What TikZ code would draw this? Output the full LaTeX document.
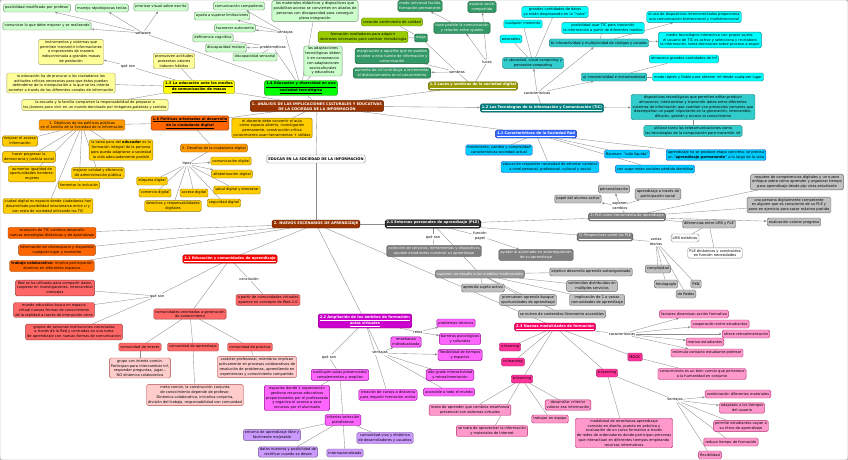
\documentclass[tikz,border=0pt]{standalone}
\usepackage{fontspec}
\setmainfont{DejaVu Sans}
\usetikzlibrary{arrows.meta,positioning,backgrounds}

\definecolor{cLgreen}{HTML}{CCFFCC}
\definecolor{cLyellow}{HTML}{FFFF99}
\definecolor{cYellow}{HTML}{FFFF00}
\definecolor{cGreen}{HTML}{00FF00}
\definecolor{cOlive}{HTML}{99CC00}
\definecolor{cDkgreen}{HTML}{339966}
\definecolor{cOliveD}{HTML}{999900}
\definecolor{cCyan}{HTML}{00FFFF}
\definecolor{cTeal}{HTML}{33CCCC}
\definecolor{cTealD}{HTML}{008080}
\definecolor{cBlue}{HTML}{3366FF}
\definecolor{cSky}{HTML}{00CCFF}
\definecolor{cBrown}{HTML}{993300}
\definecolor{cGold}{HTML}{FFCC00}
\definecolor{cOrange}{HTML}{FF9900}
\definecolor{cOrRed}{HTML}{FF6600}
\definecolor{cRed}{HTML}{FF0000}
\definecolor{cSalmon}{HTML}{FF6666}
\definecolor{cLpink}{HTML}{FFCCCC}
\definecolor{cPurple}{HTML}{CC00CC}
\definecolor{cMagL}{HTML}{FF66FF}
\definecolor{cLav}{HTML}{CC99FF}
\definecolor{cCrimson}{HTML}{FF0066}
\definecolor{cHotpink}{HTML}{FF3399}
\definecolor{cPink}{HTML}{FF99CC}
\definecolor{cDark}{HTML}{333333}
\definecolor{cDgray}{HTML}{808080}
\definecolor{cMgray}{HTML}{999999}
\definecolor{cLgray}{HTML}{C0C0C0}
\definecolor{cLine}{HTML}{8C8C8C}

\newcommand{\cmfont}{\fontsize{3.6}{4.8}\selectfont}

\begin{document}
\begin{tikzpicture}[
  x=1pt,y=-1pt,
  concept/.style={rounded corners=1.5pt,align=center,inner xsep=1.6pt,inner ysep=1.3pt,minimum height=8pt,font=\cmfont,line width=.4pt},
  hd/.style={font=\cmfont\bfseries},
  wt/.style={text=white},
  lw/.style={font=\cmfont,fill=white,inner sep=.5pt,align=center},
  link/.style={draw=cLine,line width=.35pt},
  arr/.style={-{Latex[length=2.6pt,width=2.2pt]}},
  lgreen/.style={concept,fill=cLgreen,draw=cLgreen!55!black},
  lyel/.style={concept,fill=cLyellow,draw=cLyellow!60!black},
  yel/.style={concept,fill=cYellow,draw=cYellow!60!black},
  green/.style={concept,fill=cGreen,draw=cGreen!55!black},
  olive/.style={concept,fill=cOlive,draw=cOlive!60!black},
  dkgreen/.style={concept,fill=cDkgreen,draw=cDkgreen!60!black,wt},
  oliveD/.style={concept,fill=cOliveD,draw=cOliveD!60!black,wt},
  cyan/.style={concept,fill=cCyan,draw=cCyan!55!black},
  teal/.style={concept,fill=cTeal,draw=cTeal!60!black},
  tealD/.style={concept,fill=cTealD,draw=cTealD!60!black,wt},
  blue/.style={concept,fill=cBlue,draw=cBlue!60!black,wt},
  sky/.style={concept,fill=cSky,draw=cBlue!80!black},
  brown/.style={concept,fill=cBrown,draw=cBrown!60!black,wt},
  gold/.style={concept,fill=cGold,draw=cGold!60!black},
  orange/.style={concept,fill=cOrange,draw=cOrange!60!black},
  orred/.style={concept,fill=cOrRed,draw=cOrRed!60!black},
  red/.style={concept,fill=cRed,draw=cRed!60!black,wt},
  salmon/.style={concept,fill=cSalmon,draw=cSalmon!60!black},
  lpink/.style={concept,fill=cLpink,draw=cSalmon!70!black},
  purple/.style={concept,fill=cPurple,draw=cPurple!60!black,wt},
  magl/.style={concept,fill=cMagL,draw=cPurple!70!black},
  lav/.style={concept,fill=cLav,draw=cLav!55!black},
  crimson/.style={concept,fill=cCrimson,draw=cCrimson!60!black,wt},
  hotpink/.style={concept,fill=cHotpink,draw=cHotpink!60!black},
  pink/.style={concept,fill=cPink,draw=cHotpink!70!black},
  dark/.style={concept,fill=cDark,draw=black,wt},
  dgray/.style={concept,fill=cDgray,draw=cDgray!60!black,wt},
  mgray/.style={concept,fill=cMgray,draw=cMgray!60!black,wt},
  lgray/.style={concept,fill=cLgray,draw=cLgray!55!black},
  white/.style={concept,fill=white,draw=cDgray}
]
  \useasboundingbox (0,0) rectangle (848,460);

  % ---- 1.4 / 1.5 block
  \node[lgreen] (posmod) at (37,8) {posibilidad modificado por profesor};
  \node[lgreen] (manejo) at (102,8) {manejo rápido/pocas teclas};
  \node[lgreen] (priorizar) at (161,7) {priorizar visual sobre escrito};
  \node[lgreen] (comunicar) at (47,26) {comunicar lo que debe mejorar y se realizando};
  \node[lw] (software) at (143,33) {software};
  \node[lyel] (instrum) at (71,52) {instrumentos y sistemas que\\permiten transmitir informaciones\\o impresiones de manera\\indiscriminada a grandes masas\\de población};
  \node[lw] (quesonA) at (128,66) {qué son};
  \node[lyel] (promueven) at (174,61) {promueven actitudes\\presentan valores\\inducen hábitos};
  \node[yel,hd] (edu15) at (199,87) {\underline{1.5 La educación ante los medios}\\\underline{de comunicación de masas}};
  \node[lyel] (procurar) at (61,83) {la educación ha de procurar a los ciudadanos las\\actitudes críticas necesarias para que éstos puedan\\defenderse de la manipulación a la que se les intenta\\someter a través de los diferentes canales de información};
  \node[lyel] (escuela) at (95,105) {la escuela y la familia comparten la responsabilidad de preparar a\\los jóvenes para vivir en un mundo dominado por imágenes,palabras y sonidos};
  \node[lgreen] (comcomp) at (239,6) {comunicación compañeros};
  \node[lgreen] (ayuda) at (222,16) {ayuda a superar limitaciones};
  \node[lgreen] (favorecer) at (235,28) {favorecer autonomía};
  \node[lgreen] (defcog) at (213,38) {deficiencia cognitiva};
  \node[lgreen] (dismot) at (226,48) {discapacidad motora};
  \node[lgreen] (dissen) at (255,57) {discapacidad sensorial};
  \node[lw] (ventajasA) at (285,33) {ventajas};
  \node[lw] (problem) at (273,47) {problemáticas};
  \node[lgreen] (materiales) at (315,11) {los materiales didácticos y dispositivos que\\posibilitan acceso se convierten en aliados de\\personas con discapacidad para conseguir\\plena integración};
  \node[lgreen] (adapt) at (323,61) {las adaptaciones\\tecnológicas deben\\ir en consonancia\\con adaptaciones\\socioculturales\\y educativas};
  \node[green,hd] (edu14) at (301,88) {\underline{1.4 Educación y diversidad en una}\\\underline{sociedad tecnológica}};

  % ---- 1.3
  \node[olive] (creacion) at (392,22) {creación sentimiento de calidad};
  \node[olive] (formmed) at (363,37) {formación mediadores para adquirir\\destrezas necesarias para cambiar metodología};
  \node[dkgreen] (exige) at (421,38) {exige};
  \node[dkgreen] (marginacion) at (392,56) {marginación a aquellos que no puedan\\acceder a esta fuente de información y\\comunicación};
  \node[dkgreen] (aumento) at (392,73) {aumento de inf contribuye a incrementar\\el distanciamiento en el conocimiento};
  \node[dkgreen] (modouni) at (420,6) {modo universal facilita\\formación permanente};
  \node[dkgreen] (espacio) at (482,7) {espacio social\\compartido};
  \node[dkgreen] (haceposible) at (462,28) {hace posible la comunicación\\y relación entre iguales};
  \node[lw] (luces) at (487,62) {luces};
  \node[lw] (sombras) at (457,72) {sombras};
  \node[oliveD,hd] (s13) at (473,86) {\underline{1.3 Luces y sombras de la sociedad digital}};

  % ---- 1.2
  \node[cyan] (grandes) at (555,12) {grandes cantidades de datos\\ya están desplazando en la "nube"};
  \node[cyan] (cualquier) at (523,24) {cualquier momento};
  \node[cyan] (wearables) at (511,39) {wearables};
  \node[cyan] (posusar) at (603,28) {posibilidad usar TIC para transmitir\\la información a partir de diferentes medios};
  \node[teal] (bint) at (599,43) {b) interactividad y multiplicidad de códigos y canales};
  \node[teal] (cubic) at (533,63) {c) ubicuidad, cloud computing  y\\pervasive computing};
  \node[teal] (ainm) at (614,77) {a) inmaterialidad e instantaneidad};
  \node[lw] (caract) at (537,93) {características};
  \node[tealD,hd] (s12) at (542,108) {\underline{1.2 Las Tecnologías de la Información y Comunicación (TIC)}};
  \node[cyan] (eluso) at (694,17) {el uso de dispositivos interconectados proporciona\\una comunicación bidireccional y multidireccional};
  \node[cyan] (medio) at (710,40) {medio tecnológico interactivo con propio sujeto:\\el usuario de TIC es activo y selecciona y re-elabora\\la información, toma decisiones sobre proceso a seguir};
  \node[cyan] (almacena) at (684,59) {almacena grandes cantidades de inf};
  \node[cyan] (modorap) at (708,77) {modo rápido y fiable para obtener inf desde cualquier lugar};
  \node[teal] (dispositivos) at (693,107) {dispositivos tecnológicos que permiten editar,producir\\almacenar, intercambiar y transmitir datos entre diferentes\\sistemas de información que cuentan con protocolos comunes que\\desempeñan un papel importante en la generación, intercambio,\\difusión, gestión y acceso al conocimiento};
  \node[teal] (utilizan) at (693,131) {utilizan tanto las telecomunicaciones como\\las tecnologías de la computación para transmitir inf};

  % ---- 1.1
  \node[blue,hd] (s11) at (536,134) {\underline{1.1 Características de la Sociedad Red}};
  \node[sky] (movimiento) at (499,150) {movimiento, cambio y complejidad\\características sociedad actual};
  \node[sky] (aprendperm) at (716,155) {aprendizaje no se produce etapa concreta, se precisa\\un "\textbf{aprendizaje permanente}" a lo largo de la vida};
  \node[sky] (bauman) at (627,154) {Bauman: "vida líquida"};
  \node[sky] (edresp) at (550,167) {educación responder necesidad de afrontar cambios\\a nivel personal, profesional, cultural y social};
  \node[sky] (auge) at (655,169) {con auge redes sociales pérdida identidad};

  % ---- centre
  \node[brown,hd] (analisis) at (317,106) {1. ANÁLISIS DE LAS IMPLICACIONES CULTURALES Y EDUCATIVAS\\DE LA SOCIEDAD DE LA INFORMACIÓN};
  \node[gold] (docente) at (272,128) {el docente debe convertir el aula\\como espacio abierto, investigación\\permanente, construcción crítica\\conocimiento usan herramientas + sólidas};
  \node[white,hd] (educar) at (316,159) {EDUCAR EN LA SOCIEDAD DE LA INFORMACIÓN};
  \node[brown,hd] (nuevos) at (316,224) {2. NUEVOS ESCENARIOS DE APRENDIZAJE};

  % ---- 1.6
  \node[orred,hd] (s16) at (190,123) {\underline{1.6 Políticas orientadas al desarrollo}\\\underline{de la ciudadanía digital}};
  \node[orange] (objetivos) at (82,125) {1. Objetivos de las políticas públicas\\en el ámbito de la Sociedad de la Información};
  \node[gold] (mejacc) at (20,141) {mejorar el acceso\\información};
  \node[gold] (tarea) at (121,150) {la tarea para del \textbf{educador} es la\\formación integral de la persona\\para pueda adaptarse a sociedad\\la vida adecuadamente posible};
  \node[gold] (progresar) at (29,157) {hacer progresar la\\democracia y justicia social};
  \node[gold] (igualdad) at (32,174) {aumentar igualdad de\\oportunidades hombres-\\mujeres};
  \node[gold] (calidad) at (98,173) {mejorar calidad y eficiencia\\de administración pública};
  \node[gold] (inclusion) at (79,185) {fomentar la inclusión};
  \node[gold] (ciudad) at (48,206) {ciudad digital es espacio donde ciudadanos han\\desarrollado posibilidad relacionarse entre sí y\\con resto de sociedad utilizando las TIC};
  \node[orange] (desafios) at (214,148) {2. Desafíos de la ciudadanía digital};
  \node[lw] (tipos) at (187,164) {tipos};
  \node[gold] (comdig) at (231,161) {comunicación digital};
  \node[gold] (alfdig) at (232,174) {alfabetización digital};
  \node[gold] (salud) at (237,190) {salud digital y bienestar};
  \node[gold] (seguridad) at (224,203) {seguridad digital};
  \node[gold] (etiqueta) at (152,181) {etiqueta digital};
  \node[gold] (comercio) at (155,193) {comercio digital};
  \node[gold] (acceso) at (194,193) {acceso digital};
  \node[gold] (derechos) at (173,206) {derechos y responsabilidades\\digitales};

  % ---- 2.1
  \node[orred] (evolucion) at (52,233) {evolución de TIC conlleva desarrollo\\nuevas estrategias didácticas y de aprendizaje};
  \node[orred] (infciber) at (57,250) {información en ciberespacio y disponible\\cualquier lugar y momento};
  \node[orred] (trabcol) at (52,266) {\textbf{trabajo colaborativo}:  implica participación\\alumnos en diferentes espacios};
  \node[red,hd] (s21) at (230,259) {\underline{2.1 Educación y comunidades de aprendizaje}};
  \node[lw] (quesonB) at (157,296) {qué son};
  \node[salmon] (redutil) at (55,288) {Red se ha utilizado para compartir datos,\\cooperar en investigaciones, intercambiar\\mensajes};
  \node[salmon] (mundo) at (54,310) {mundo educativo busca en espacio\\virtual nuevas formas de conocimiento\\de la realidad a través de interacción otros};
  \node[salmon] (grupos) at (74,332) {grupos de personas  instituciones conectadas\\a través de la Red y centradas en una tarea\\de aprendizaje con nuevas formas de comunicación};
  \node[salmon] (comorient) at (190,314) {comunidades orientadas a generación\\de conocimiento};
  \node[lw] (conclusion) at (249,279) {conclusión};
  \node[salmon] (apartir) at (268,300) {a partir de comunidades virtuales\\aparece en concepto de Web 2.0};
  \node[salmon] (cominteres) at (140,347) {comunidad de interés};
  \node[salmon] (comaprend) at (193,347) {comunidad de aprendizaje};
  \node[salmon] (compract) at (250,347) {comunidad de práctica};
  \node[lpink] (grupoint) at (140,368) {grupo con interés común.\\Participan para intercambiar inf,\\responder preguntas, jugar...\\NO dinámica colaborativa};
  \node[lpink] (metacomun) at (195,395) {meta común, la construcción conjunta\\de conocimiento depende de profesor.\\Dinámica colaborativa, iniciativa conjunta,\\división del trabajo, responsabilidad con comunidad};
  \node[lpink] (caracter) at (257,367) {carácter profesional, miembros implican\\activamente en procesos colaborativos de\\resolución de problemas, aprendiendo en\\experiencias y conocimiento compartido};

  % ---- 2.2
  \node[purple,hd] (s22) at (365,321) {\underline{2.2 Ampliación de los ámbitos de formación:}\\\underline{aulas virtuales}};
  \node[lw] (retos) at (418,332) {retos};
  \node[magl] (ensenanza) at (406,342) {enseñanza\\individualizada};
  \node[lw] (ventajasB) at (380,353) {ventajas};
  \node[lw] (quesonC) at (329,357) {qué son};
  \node[magl] (sustituyen) at (340,375) {sustituyen aulas presenciales/\\complementan y amplían};
  \node[magl] (espacios) at (297,398) {espacios donde 1 organización\\gestiona recursos educativos\\proporcionados por el profesorado\\y organiza el acceso a esos\\recursos por el alumnado};
  \node[magl] (cursos) at (388,395) {creación de cursos a distancia\\para impartir formación online};
  \node[magl] (criterios) at (343,420) {criterios selección\\plataformas};
  \node[lav] (entorno) at (272,435) {entorno de aprendizaje libre y\\fácilmente mejorable};
  \node[lav] (datos) at (288,452) {datos nuestros y posibilidad de\\rectificar cuando se desee};
  \node[lav] (internac) at (345,453) {internacionalizado};
  \node[lav] (comviva) at (385,438) {comunidad viva y dinámica\\de desarrolladores y usuarios};
  \node[magl] (problemas) at (456,323) {problemas técnicos};
  \node[magl] (barreras) at (460,339) {barreras psicológicas\\y culturales};
  \node[magl] (flexib) at (460,355) {flexibilidad de tiempos\\y espacios};
  \node[magl] (altogrado) at (450,375) {alto grado interactividad\\y retroalimentación};
  \node[magl] (accesible) at (449,392) {accesible a todo el mundo};

  % ---- 2.3
  \node[crimson,hd] (s23) at (555,327) {\underline{2.3 Nuevas modalidades de formación}};
  \node[hotpink] (ulearn) at (510,347) {u-learning};
  \node[hotpink] (mlearn) at (513,362) {m-learning};
  \node[hotpink] (blearn) at (522,379) {b-learning};
  \node[hotpink] (elearn) at (607,373) {e-learning};
  \node[hotpink] (mooc) at (635,357) {MOOC};
  \node[lw] (caractB) at (622,334) {características};
  \node[pink] (factores) at (694,314) {factores dinamizan acción formativa};
  \node[pink] (cooperacion) at (720,324) {cooperación entre estudiantes};
  \node[pink] (retro) at (746,334) {ofrece retroalimentación};
  \node[pink] (motiva) at (705,342) {motiva estudiantes};
  \node[pink] (estimula) at (707,353) {estimula contacto estudiante-profesor};
  \node[pink] (bien) at (702,374) {conocimiento es un bien común que pertenece\\a la humanidad en conjunto};
  \node[lw] (ventajasC) at (675,400) {ventajas};
  \node[pink] (combinacion) at (738,394) {combinación diferentes materiales};
  \node[pink] (adaptado) at (742,408) {adaptado a los tiempos\\del usuario};
  \node[pink] (ritmo) at (741,426) {permite estudiantes vayan a\\su ritmo de aprendizaje};
  \node[pink] (reduce) at (731,442) {reduce tiempo de formación};
  \node[pink] (flexibilidad) at (710,455) {flexibilidad};
  \node[pink] (modalidad) at (624,433) {modalidad de enseñanza-aprendizaje\\consiste en diseño, puesta en práctica y\\evaluación de un curso formativo a través\\de redes de ordenadores donde participan personas\\que interactúan en diferentes tiempos empleando\\recursos informativos};
  \node[pink] (combina) at (470,410) {modo de aprender que combina enseñanza\\presencial con sistemas virtuales};
  \node[pink] (aprovechar) at (492,431) {se trata de aprovechar la información\\y materiales de Internet};
  \node[pink] (criterior) at (568,405) {desarrollar criterior\\valorar esa información};
  \node[pink] (equipo) at (550,419) {trabajar en equipo};

  % ---- 2.4
  \node[dark,hd] (s24) at (433,224) {\underline{2.4 Entornos personales de aprendizaje (PLE)}};
  \node[lw] (quesonD) at (433,237) {qué son};
  \node[lw] (funcion) at (480,236) {función\\papel};
  \node[dgray] (coleccion) at (434,251) {colección de servicios, herramientas y dispositivos\\ayudan estudiantes construir su aprendizaje};
  \node[dgray] (ayudar) at (536,255) {ayudar al alumnado en autorregulación\\de su aprendizaje};
  \node[mgray] (desafio) at (480,274) {suponen un desafío a los modelos tradicionales};
  \node[lgray] (objetivo) at (591,272) {objetivo desarrollo aprendiz autoorganizado};
  \node[lgray] (aprendiz) at (483,288) {aprendiz sujeto activo};
  \node[lgray] (contenidos) at (592,286) {contenidos distribuidos en\\múltiples servicios};
  \node[lgray] (promueven2) at (528,300) {promueven aprendiz busque\\oportunidades de aprendizaje};
  \node[lgray] (implicacion) at (597,300) {implicación de 1 a varias\\comunidades de aprendizaje};
  \node[lgray] (nutren) at (562,314) {se nutren de contenidos libremente accesibles};
  \node[dgray] (pleherr) at (627,217) {\underline{2) PLE como herramienta de aprendizaje}};
  \node[dgray] (perspect) at (605,237) {\underline{1) Perspectivas sobre los PLE}};
  \node[lw] (suponen) at (620,206) {suponen\\cambios};
  \node[lgray] (personal) at (614,189) {personalización};
  \node[lgray] (papel) at (578,199) {papel del alumno activo};
  \node[lgray] (partsoc) at (658,194) {aprendizaje a través de\\participación social};
  \node[lgray] (requiere) at (797,182) {requiere de competencias digitales y un nuevo\\enfoque sobre cómo aprender y organizar tiempo\\para aprendizaje desde ptp vista estudiante};
  \node[lgray] (persona) at (789,205) {una persona digitalmente competente\\es alguien que es consciente de su PLE y\\pone en ejercicio para sacar máximo partido};
  \node[lgray] (evaluacion) at (794,222) {evaluación valorar progreso};
  \node[lgray] (diferencias) at (709,224) {diferencias entre LMS y PLE};
  \node[white] (lms) at (685,238) {LMS estáticos};
  \node[white] (pledin) at (715,253) {PLE dinámicos y construidos\\en función necesidades};
  \node[lw] (teorias) at (656,242) {varias\\teorías};
  \node[lgray] (complejidad) at (658,269) {complejidad};
  \node[lgray] (heuta) at (666,284) {heutagogía};
  \node[lgray] (pkn) at (696,284) {PKN};
  \node[lgray] (redes) at (686,294) {de Redes};

  % ---- connectors
  \begin{scope}[on background layer]
  \fill[white] (0,0) rectangle (848,460);
  \draw[link] (edu14) -- (software);
  \draw[link,arr] (software) -- (posmod);
  \draw[link,arr] (software) -- (manejo);
  \draw[link,arr] (software) -- (priorizar);
  \draw[link,arr] (software) -- (comunicar);
  \draw[link] (edu14) -- (ventajasA);
  \draw[link,arr] (ventajasA) -- (comcomp);
  \draw[link,arr] (ventajasA) -- (ayuda);
  \draw[link,arr] (ventajasA) -- (favorecer);
  \draw[link] (edu14) -- (problem);
  \draw[link] (problem) -- (defcog);
  \draw[link,arr] (problem) -- (dismot);
  \draw[link] (problem) -- (dissen);
  \draw[link] (edu14) -- (materiales);
  \draw[link] (edu14) -- (adapt);
  \draw[link] (analisis) -- (edu14);
  \draw[link] (analisis) -- (edu15);
  \draw[link] (edu15) -- (quesonA);
  \draw[link,arr] (quesonA) -- (instrum);
  \draw[link] (edu15) -- (promueven);
  \draw[link] (edu15) -- (procurar);
  \draw[link] (edu15) -- (escuela);
  \draw[link] (analisis) -- (s16);
  \draw[link] (s16) -- (objetivos);
  \draw[link] (s16) -- (desafios);
  \draw[link] (objetivos) -- (mejacc);
  \draw[link] (objetivos) -- (tarea);
  \draw[link] (objetivos) -- (progresar);
  \draw[link] (objetivos) -- (igualdad);
  \draw[link] (objetivos) -- (calidad);
  \draw[link] (objetivos) -- (inclusion);
  \draw[link] (objetivos) -- (ciudad);
  \draw[link] (desafios) -- (tipos);
  \draw[link,arr] (tipos) -- (comdig);
  \draw[link,arr] (tipos) -- (alfdig);
  \draw[link] (tipos) -- (salud);
  \draw[link] (tipos) -- (seguridad);
  \draw[link] (tipos) -- (etiqueta);
  \draw[link] (tipos) -- (comercio);
  \draw[link] (tipos) -- (acceso);
  \draw[link] (tipos) -- (derechos);
  \draw[link] (analisis) -- (docente);
  \draw[link] (analisis) -- (s13);
  \draw[link] (s13) -- (luces);
  \draw[link,arr] (luces) -- (haceposible);
  \draw[link,arr] (luces) -- (espacio);
  \draw[link,arr] (haceposible) -- (modouni);
  \draw[link] (s13) -- (sombras);
  \draw[link,arr] (sombras) -- (aumento);
  \draw[link] (sombras) -- (marginacion);
  \draw[link] (sombras) -- (exige);
  \draw[link] (exige) -- (formmed);
  \draw[link] (exige) -- (creacion);
  \draw[link,arr] (analisis) -- (s12);
  \draw[link] (s12) -- (caract);
  \draw[link,arr] (caract) -- (ainm);
  \draw[link,arr] (caract) -- (bint);
  \draw[link,arr] (caract) -- (cubic);
  \draw[link] (cubic) -- (wearables);
  \draw[link] (cubic) -- (cualquier);
  \draw[link] (cubic) -- (grandes);
  \draw[link] (bint) -- (posusar);
  \draw[link,arr] (bint) -- (eluso);
  \draw[link,arr] (bint) -- (medio);
  \draw[link] (ainm) -- (almacena);
  \draw[link] (ainm) -- (modorap);
  \draw[link,arr] (s12) -- (dispositivos);
  \draw[link] (dispositivos) -- (utilizan);
  \draw[link] (analisis) -- (s11);
  \draw[link] (s11) -- (movimiento);
  \draw[link] (s11) -- (edresp);
  \draw[link] (s11) -- (bauman);
  \draw[link] (s11) -- (auge);
  \draw[link] (s11) -- (aprendperm);
  \draw[link] (educar) -- (analisis);
  \draw[link] (educar) -- (nuevos);
  \draw[link] (nuevos) -- (evolucion);
  \draw[link] (nuevos) -- (infciber);
  \draw[link] (nuevos) -- (trabcol);
  \draw[link] (nuevos) -- (s21);
  \draw[link] (s21) -- (quesonB);
  \draw[link] (quesonB) -- (redutil);
  \draw[link] (quesonB) -- (mundo);
  \draw[link] (quesonB) -- (grupos);
  \draw[link] (s21) -- (comorient);
  \draw[link] (s21) -- (conclusion);
  \draw[link] (conclusion) -- (apartir);
  \draw[link] (comorient) -- (cominteres);
  \draw[link] (comorient) -- (comaprend);
  \draw[link] (comorient) -- (compract);
  \draw[link] (cominteres) -- (grupoint);
  \draw[link] (comaprend) -- (metacomun);
  \draw[link] (compract) -- (caracter);
  \draw[link] (nuevos) -- (s22);
  \draw[link] (s22) -- (retos);
  \draw[link,arr] (retos) -- (problemas);
  \draw[link,arr] (retos) -- (barreras);
  \draw[link] (s22) -- (ventajasB);
  \draw[link,arr] (ventajasB) -- (ensenanza);
  \draw[link,arr] (ventajasB) -- (flexib);
  \draw[link,arr] (ventajasB) -- (altogrado);
  \draw[link] (ventajasB) -- (accesible);
  \draw[link] (s22) -- (quesonC);
  \draw[link] (quesonC) -- (sustituyen);
  \draw[link] (sustituyen) -- (espacios);
  \draw[link] (sustituyen) -- (criterios);
  \draw[link] (s22) -- (cursos);
  \draw[link] (criterios) -- (entorno);
  \draw[link] (criterios) -- (datos);
  \draw[link] (criterios) -- (internac);
  \draw[link] (criterios) -- (comviva);
  \draw[link] (nuevos) -- (s23);
  \draw[link] (s23) -- (ulearn);
  \draw[link] (s23) -- (mlearn);
  \draw[link] (s23) -- (blearn);
  \draw[link] (s23) -- (elearn);
  \draw[link] (s23) -- (mooc);
  \draw[link] (s23) -- (caractB);
  \draw[link,arr] (caractB) -- (factores);
  \draw[link,arr] (caractB) -- (cooperacion);
  \draw[link,arr] (caractB) -- (retro);
  \draw[link,arr] (caractB) -- (motiva);
  \draw[link,arr] (caractB) -- (estimula);
  \draw[link] (mooc) -- (bien);
  \draw[link] (elearn) -- (ventajasC);
  \draw[link,arr] (ventajasC) -- (combinacion);
  \draw[link,arr] (ventajasC) -- (adaptado);
  \draw[link] (ventajasC) -- (ritmo);
  \draw[link] (ventajasC) -- (reduce);
  \draw[link] (ventajasC) -- (flexibilidad);
  \draw[link] (elearn) -- (modalidad);
  \draw[link] (blearn) -- (combina);
  \draw[link] (blearn) -- (aprovechar);
  \draw[link] (blearn) -- (criterior);
  \draw[link] (blearn) -- (equipo);
  \draw[link] (nuevos) -- (s24);
  \draw[link] (s24) -- (quesonD);
  \draw[link] (quesonD) -- (coleccion);
  \draw[link] (s24) -- (funcion);
  \draw[link,arr] (funcion) -- (ayudar);
  \draw[link] (s24) -- (desafio);
  \draw[link] (desafio) -- (objetivo);
  \draw[link] (desafio) -- (aprendiz);
  \draw[link] (desafio) -- (contenidos);
  \draw[link] (desafio) -- (promueven2);
  \draw[link] (desafio) -- (implicacion);
  \draw[link] (desafio) -- (nutren);
  \draw[link] (s24) -- (pleherr);
  \draw[link] (s24) -- (perspect);
  \draw[link] (pleherr) -- (suponen);
  \draw[link,arr] (suponen) -- (personal);
  \draw[link,arr] (suponen) -- (papel);
  \draw[link,arr] (suponen) -- (partsoc);
  \draw[link] (pleherr) -- (requiere);
  \draw[link] (pleherr) -- (persona);
  \draw[link,arr] (pleherr) -- (evaluacion);
  \draw[link] (pleherr) -- (diferencias);
  \draw[link] (diferencias) -- (lms);
  \draw[link] (diferencias) -- (pledin);
  \draw[link] (perspect) -- (teorias);
  \draw[link] (teorias) -- (complejidad);
  \draw[link] (teorias) -- (heuta);
  \draw[link] (teorias) -- (pkn);
  \draw[link] (teorias) -- (redes);
  \end{scope}
\end{tikzpicture}
\end{document}
